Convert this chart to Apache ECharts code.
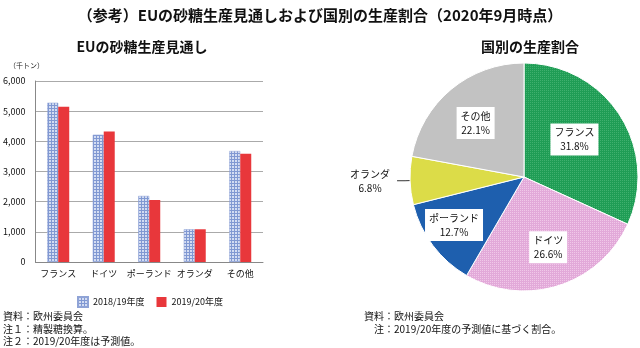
<!DOCTYPE html>
<html><head><meta charset="utf-8">
<script src="https://cdn.jsdelivr.net/npm/echarts@6/dist/echarts.min.js"></script>
<style>html,body{margin:0;padding:0;background:#fff}#c{width:640px;height:348px}</style>
</head><body><div id="c"></div>
<script>
const categories = ['フランス', 'ドイツ', 'ポーランド', 'オランダ', 'その他'];
const seriesNames = ['2018/19年度', '2019/20年度'];
const prod2018 = [5280, 4220, 2190, 1085, 3680];
const prod2019 = [5150, 4330, 2055, 1085, 3590];
const yTicks = [0, 1000, 2000, 3000, 4000, 5000, 6000];
const shareNames = ['フランス', 'ドイツ', 'ポーランド', 'オランダ', 'その他'];
const shareValues = [31.8, 26.6, 12.7, 6.8, 22.1];

const FONT = '"Noto Sans CJK JP", "Noto Sans", sans-serif';

function makePattern(bg, fg, size, mode) {
  const c = document.createElement('canvas');
  c.width = size; c.height = size;
  const g = c.getContext('2d');
  g.fillStyle = bg; g.fillRect(0, 0, size, size);
  g.fillStyle = fg;
  if (mode === 'grid') {
    g.fillRect(0, 0, size, 1);
    g.fillRect(0, 0, 1, size);
  } else {
    g.fillRect(0, 0, 1, 1);
  }
  return c;
}
const blueGrid = makePattern('#d3dcf2', '#8098d2', 3, 'grid');
const greenDot = makePattern('#1f9d55', '#3fb06e', 2, 'dot');
const pinkDot = makePattern('#e2a9d9', '#f0c8e8', 2, 'dot');

const sliceColors = [
  {image: greenDot, repeat: 'repeat'},
  {image: pinkDot, repeat: 'repeat'},
  '#1e5fae',
  '#dcdc48',
  '#c2c2c2'
];
const labelOffsets = [[0, -5], [6, 13], [-22, 12], [0, 0], [-10, -8]];

const chart = echarts.init(document.getElementById('c'), null, {renderer: 'canvas'});
chart.setOption({
  animation: false,
  textStyle: {fontFamily: FONT},
  title: [
    {text: '（参考）EUの砂糖生産見通しおよび国別の生産割合（2020年9月時点）', left: 'center', top: 3,
     textStyle: {fontSize: 15, fontWeight: 'bold', color: '#111', fontFamily: FONT}},
    {text: 'EUの砂糖生産見通し', left: 137, top: 35, textAlign: 'center',
     textStyle: {fontSize: 14, fontWeight: 'bold', color: '#111', fontFamily: FONT}},
    {text: '国別の生産割合', left: 525, top: 35, textAlign: 'center',
     textStyle: {fontSize: 14, fontWeight: 'bold', color: '#111', fontFamily: FONT}}
  ],
  legend: {
    data: seriesNames, left: 72, top: 291, itemWidth: 10, itemHeight: 10, itemGap: 12,
    icon: 'rect', textStyle: {fontSize: 9, color: '#111', fontFamily: FONT}
  },
  grid: {left: 33, right: 377, top: 81, bottom: 86, containLabel: false},
  xAxis: {
    type: 'category', data: categories,
    axisLine: {lineStyle: {color: '#888'}}, axisTick: {show: false},
    axisLabel: {fontSize: 9, color: '#111', margin: 7, interval: 0}
  },
  yAxis: {
    type: 'value', min: yTicks[0], max: yTicks[yTicks.length - 1], interval: 1000,
    axisLine: {show: true, lineStyle: {color: '#888'}}, axisTick: {show: false},
    splitLine: {lineStyle: {color: '#aaa'}},
    axisLabel: {fontSize: 9, color: '#111', margin: 10, formatter: v => v.toLocaleString('en-US')}
  },
  graphic: [
    {type: 'text', left: 9, top: 62, style: {text: '（千トン）', fontSize: 7, fill: '#222', fontFamily: FONT}},
    {type: 'text', left: 3, top: 310, style: {text: '資料：欧州委員会\n注１：精製糖換算。\n注２：2019/20年度は予測値。', fontSize: 10, lineHeight: 12.5, fill: '#111', fontFamily: FONT}},
    {type: 'text', left: 364, top: 310, style: {text: '資料：欧州委員会\n　注：2019/20年度の予測値に基づく割合。', fontSize: 10, lineHeight: 13, fill: '#111', fontFamily: FONT}}
  ],
  series: [
    {name: seriesNames[0], type: 'bar', data: prod2018, barWidth: 11, barGap: '0%',
     itemStyle: {color: {image: blueGrid, repeat: 'repeat'}, borderColor: '#8fa3d6', borderWidth: 0.5}},
    {name: seriesNames[1], type: 'bar', data: prod2019, barWidth: 11,
     itemStyle: {color: '#e8373b'}},
    {name: 'share', type: 'pie', center: [524, 177], radius: 114, startAngle: 90, clockwise: true,
     silent: true, legendHoverLink: false,
     data: shareNames.map((n, i) => ({
       name: n, value: shareValues[i],
       itemStyle: {color: sliceColors[i]},
       label: i === 3 ? {
         position: 'outside', backgroundColor: 'transparent', padding: 0,
         formatter: '{n|{b}}\n{n|{c}%}'
       } : {position: 'inside'},
       labelLine: i === 3 ? {show: true, length: 5, length2: 8, lineStyle: {color: '#333', width: 1}} : {show: false}
     })),
     itemStyle: {borderColor: '#fff', borderWidth: 1},
     label: {
       show: true, formatter: '{b}\n{c}%', fontSize: 10, color: '#111', lineHeight: 14,
       backgroundColor: '#fff', padding: [2, 4], align: 'center',
       rich: {n: {fontSize: 10, color: '#111', width: 44, align: 'center', lineHeight: 14}}
     },
     labelLayout: p => {
       const o = labelOffsets[p.dataIndex];
       return {dx: o[0], dy: o[1]};
     }
    }
  ]
});
</script></body></html>
